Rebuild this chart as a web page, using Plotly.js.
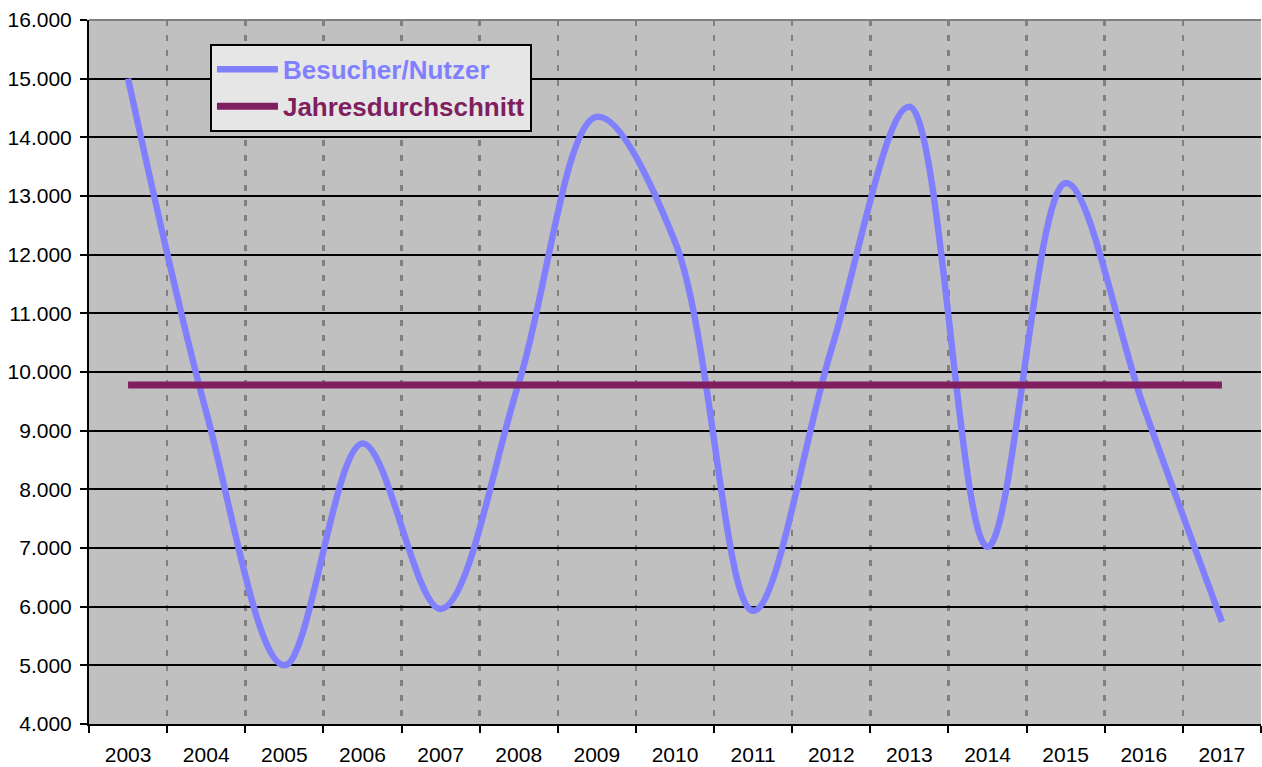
<!DOCTYPE html>
<html>
<head>
<meta charset="utf-8">
<script src="https://cdn.plot.ly/plotly-3.0.1.min.js"></script>
<style>html,body{margin:0;padding:0;background:#fff;}#chart{width:1262px;height:767px;}</style>
</head>
<body>
<div id="chart"></div>
<script>
const years = ['2003','2004','2005','2006','2007','2008','2009','2010','2011','2012','2013','2014','2015','2016','2017'];
const besucher = [15000, 9320, 5000, 8780, 5960, 9810, 14350, 12220, 5930, 10380, 14520, 7020, 13220, 9400, 5740];
const durchschnitt = [9780, 9780, 9780, 9780, 9780, 9780, 9780, 9780, 9780, 9780, 9780, 9780, 9780, 9780, 9780];
const seriesNames = ['Besucher/Nutzer', 'Jahresdurchschnitt'];
const yTicks = [4000, 5000, 6000, 7000, 8000, 9000, 10000, 11000, 12000, 13000, 14000, 15000, 16000];

const traces = [
  {
    x: years, y: besucher, type: 'scatter', mode: 'lines',
    name: '<span style="color:#8080ff">' + seriesNames[0] + '</span>',
    line: {color: '#8080ff', width: 6.5, shape: 'spline', smoothing: 1},
    hoverinfo: 'skip'
  },
  {
    x: years, y: durchschnitt, type: 'scatter', mode: 'lines',
    name: '<span style="color:#801f5f">' + seriesNames[1] + '</span>',
    line: {color: '#801f5f', width: 7},
    hoverinfo: 'skip'
  }
];

const layout = {
  width: 1262, height: 767,
  margin: {l: 89, r: 1, t: 20, b: 43, pad: 0},
  paper_bgcolor: '#ffffff',
  plot_bgcolor: '#c0c0c0',
  separators: ',.',
  font: {family: '"Liberation Sans", Arial, sans-serif', size: 21, color: '#000'},
  showlegend: true,
  legend: {
    x: 0.1032, y: 0.966, xanchor: 'left', yanchor: 'top',
    bgcolor: '#e6e6e6', bordercolor: '#000', borderwidth: 2,
    font: {family: '"Liberation Sans", Arial, sans-serif', size: 26, weight: 'bold'},
    itemwidth: 61, tracegroupgap: 0
  },
  xaxis: {
    type: 'category', range: [-0.5, 14.5],
    tickson: 'boundaries',
    ticks: 'outside', ticklen: 7, tickwidth: 2, tickcolor: '#000',
    showline: true, linecolor: '#000', linewidth: 2,
    showgrid: true, gridcolor: '#808080', gridwidth: 2.5, griddash: '6px,9px',
    tickfont: {size: 21, color: '#000'},
    ticklabelstandoff: 11,
    zeroline: false, fixedrange: true
  },
  yaxis: {
    range: [4000, 16000], tickvals: yTicks, tickformat: ',.0f',
    ticks: 'outside', ticklen: 7, tickwidth: 2, tickcolor: '#000',
    showline: true, linecolor: '#000', linewidth: 2,
    showgrid: true, gridcolor: '#000', gridwidth: 2,
    tickfont: {size: 21, color: '#000'},
    ticklabelstandoff: 4,
    zeroline: false, fixedrange: true
  },
  shapes: [
    {type: 'line', xref: 'paper', yref: 'paper', x0: 0, x1: 1, y0: 1, y1: 1,
     line: {color: '#808080', width: 2}, layer: 'above'}
  ]
};

Plotly.newPlot('chart', traces, layout, {staticPlot: true, displayModeBar: false});
</script>
</body>
</html>
